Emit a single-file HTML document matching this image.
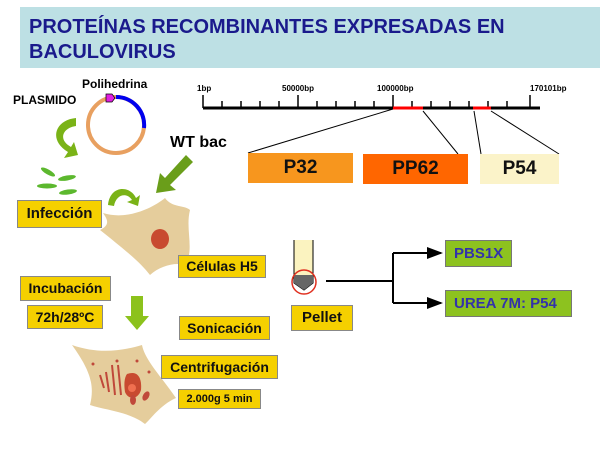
<!DOCTYPE html>
<html><head><meta charset="utf-8"><style>
body{margin:0;width:600px;height:450px;background:#fff;position:relative;overflow:hidden;font-family:"Liberation Sans",sans-serif;font-weight:bold}
.t{position:absolute;left:20px;top:7px;width:580px;height:61px;background:#bde0e4;color:#1a1a8c;font-size:20px;line-height:25px;padding:8px 0 0 9px;box-sizing:border-box}
.y{position:absolute;background:#f5d000;border:1px solid #888;box-sizing:border-box;color:#111;text-align:center;font-size:14px}
.g{position:absolute;background:#8dc21f;border:1px solid #777;box-sizing:border-box;color:#3333aa;font-size:15px;padding-left:8px}
.b{position:absolute;color:#111;text-align:center;font-size:19px;line-height:30px}
</style></head><body>
<div class="t">PROTEÍNAS RECOMBINANTES EXPRESADAS EN<br>BACULOVIRUS</div>
<svg width="600" height="450" style="position:absolute;left:0;top:0">
<defs><marker id="a" markerWidth="8" markerHeight="8" refX="7" refY="4" orient="auto"><path d="M0,1L8,4L0,7z" fill="#000"/></marker></defs>
<g stroke="#000" stroke-width="3"><line x1="203" y1="108" x2="540" y2="108"/></g>
<g stroke="#000" stroke-width="1.5">
<line x1="203" y1="95" x2="203" y2="108"/><line x1="298" y1="95" x2="298" y2="108"/><line x1="393" y1="95" x2="393" y2="108"/><line x1="530" y1="95" x2="530" y2="108"/>
<line x1="222" y1="101" x2="222" y2="108"/><line x1="241" y1="101" x2="241" y2="108"/><line x1="260" y1="101" x2="260" y2="108"/><line x1="279" y1="101" x2="279" y2="108"/><line x1="317" y1="101" x2="317" y2="108"/><line x1="336" y1="101" x2="336" y2="108"/><line x1="355" y1="101" x2="355" y2="108"/><line x1="374" y1="101" x2="374" y2="108"/><line x1="412" y1="101" x2="412" y2="108"/><line x1="431" y1="101" x2="431" y2="108"/><line x1="450" y1="101" x2="450" y2="108"/><line x1="469" y1="101" x2="469" y2="108"/><line x1="488" y1="101" x2="488" y2="108"/><line x1="507" y1="101" x2="507" y2="108"/>
</g>
<g stroke="red" stroke-width="3"><line x1="393" y1="108" x2="423" y2="108"/><line x1="473" y1="108" x2="491" y2="108"/></g>
<g stroke="#000" stroke-width="1"><line x1="393" y1="109" x2="248" y2="153"/><line x1="423" y1="111" x2="458" y2="154"/><line x1="474" y1="111" x2="481" y2="154"/><line x1="491" y1="111" x2="559" y2="154"/></g>
<g font-family="Liberation Sans" font-size="8" font-weight="bold" fill="#000"><text x="197" y="91">1bp</text><text x="282" y="91">50000bp</text><text x="377" y="91">100000bp</text><text x="530" y="91">170101bp</text></g>
<circle cx="116" cy="125" r="28" fill="none" stroke="#e8a060" stroke-width="4"/>
<path d="M116,97 A28,28 0 0,1 144,128" fill="none" stroke="#0000ee" stroke-width="4"/>
<path d="M106,94 L112,94 L115,98 L112,102 L106,102z" fill="#e020e0" stroke="#000" stroke-width="0.7"/>
<path d="M76,118 C55,120 48,140 68,152 L64,158 L78,155 L74,142 L71,147 C58,140 62,128 76,126z" fill="#7ab317"/>
<g fill="#5cb82e"><ellipse cx="48" cy="172" rx="8" ry="2.5" transform="rotate(30 48 172)"/><ellipse cx="67" cy="178" rx="9" ry="2.5" transform="rotate(-10 67 178)"/><ellipse cx="47" cy="186" rx="10" ry="2.5"/><ellipse cx="68" cy="192" rx="9" ry="2.5" transform="rotate(-8 68 192)"/></g>
<path d="M108,205 C110,185 130,185 136,198 L140,195 L138,206 L127,202 L132,200 C127,192 116,194 114,206z" fill="#7ab317"/>
<path d="M186,155 L193,162 L170,185 L176,190 L156,193 L160,173 L165,178z" fill="#6a9e1a"/>
<path d="M103,213 C125,220 150,210 165,198 C172,208 185,205 190,210 C185,230 195,250 185,265 C175,262 160,266 150,275 C140,262 125,250 100,230 C110,225 108,220 103,213z" fill="#e5cd9c"/>
<ellipse cx="160" cy="239" rx="9" ry="10" fill="#c84a30"/>
<path d="M131,296 L143,296 L143,316 L149,316 L137,330 L125,316 L131,316z" fill="#8cc21c"/>
<path d="M72,345 C100,355 125,350 142,345 C145,360 160,375 176,398 C160,405 150,420 145,424 C130,412 105,410 90,405 C95,385 90,370 72,345z" fill="#e5cd9c"/>
<path d="M127,374 C138,370 142,378 141,390 C138,400 128,400 125,392 C124,385 124,378 127,374z" fill="#c84a30"/>
<circle cx="132" cy="388" r="4" fill="#f07050"/>
<g stroke="#c0483a" stroke-width="2" fill="none"><path d="M112,365 L115,395"/><path d="M118,365 L121,395"/><path d="M106,372 L109,392"/><path d="M100,375 L104,388"/></g>
<g fill="#c0483a"><ellipse cx="133" cy="400" rx="3" ry="5"/><ellipse cx="146" cy="396" rx="3" ry="5" transform="rotate(30 146 396)"/><circle cx="93" cy="364" r="1.5"/><circle cx="117" cy="361" r="1.5"/><circle cx="137" cy="361" r="1.5"/><circle cx="149" cy="372" r="1.5"/></g>
<path d="M294,240 L294,283 L304,290 L313,283 L313,240" fill="#fbf3c0" stroke="#000" stroke-width="1"/>
<path d="M294,275 L313,275 L313,283 L304,290 L294,283z" fill="#666"/>
<circle cx="304" cy="282" r="12" fill="none" stroke="#e03020" stroke-width="1.5"/>
<g stroke="#000" stroke-width="2" fill="none"><line x1="326" y1="281" x2="393" y2="281"/><line x1="393" y1="253" x2="393" y2="303"/><line x1="393" y1="253" x2="441" y2="253" marker-end="url(#a)"/><line x1="393" y1="303" x2="441" y2="303" marker-end="url(#a)"/></g>
</svg>
<div style="position:absolute;left:82px;top:77px;font-size:12px">Polihedrina</div>
<div style="position:absolute;left:13px;top:93px;font-size:12px">PLASMIDO</div>
<div style="position:absolute;left:170px;top:134px;font-size:16px">WT bac</div>
<div class="b" style="left:248px;top:153px;width:105px;height:30px;background:#f7961e">P32</div>
<div class="b" style="left:363px;top:154px;width:105px;height:30px;background:#ff6600">PP62</div>
<div class="b" style="left:480px;top:154px;width:79px;height:30px;background:#fbf3c9">P54</div>
<div class="y" style="left:17px;top:200px;width:85px;height:28px;line-height:26px;font-size:15px">Infección</div>
<div class="y" style="left:178px;top:255px;width:88px;height:23px;line-height:21px">Células H5</div>
<div class="y" style="left:20px;top:276px;width:91px;height:25px;line-height:23px">Incubación</div>
<div class="y" style="left:27px;top:305px;width:76px;height:24px;line-height:22px">72h/28ºC</div>
<div class="y" style="left:179px;top:316px;width:91px;height:24px;line-height:22px">Sonicación</div>
<div class="y" style="left:161px;top:355px;width:117px;height:24px;line-height:22px">Centrifugación</div>
<div class="y" style="left:178px;top:389px;width:83px;height:20px;line-height:18px;font-size:11px">2.000g 5 min</div>
<div class="y" style="left:291px;top:305px;width:62px;height:26px;line-height:24px;font-size:15px">Pellet</div>
<div class="g" style="left:445px;top:240px;width:67px;height:27px;line-height:25px">PBS1X</div>
<div class="g" style="left:445px;top:290px;width:127px;height:27px;line-height:25px">UREA 7M: P54</div>
</body></html>
